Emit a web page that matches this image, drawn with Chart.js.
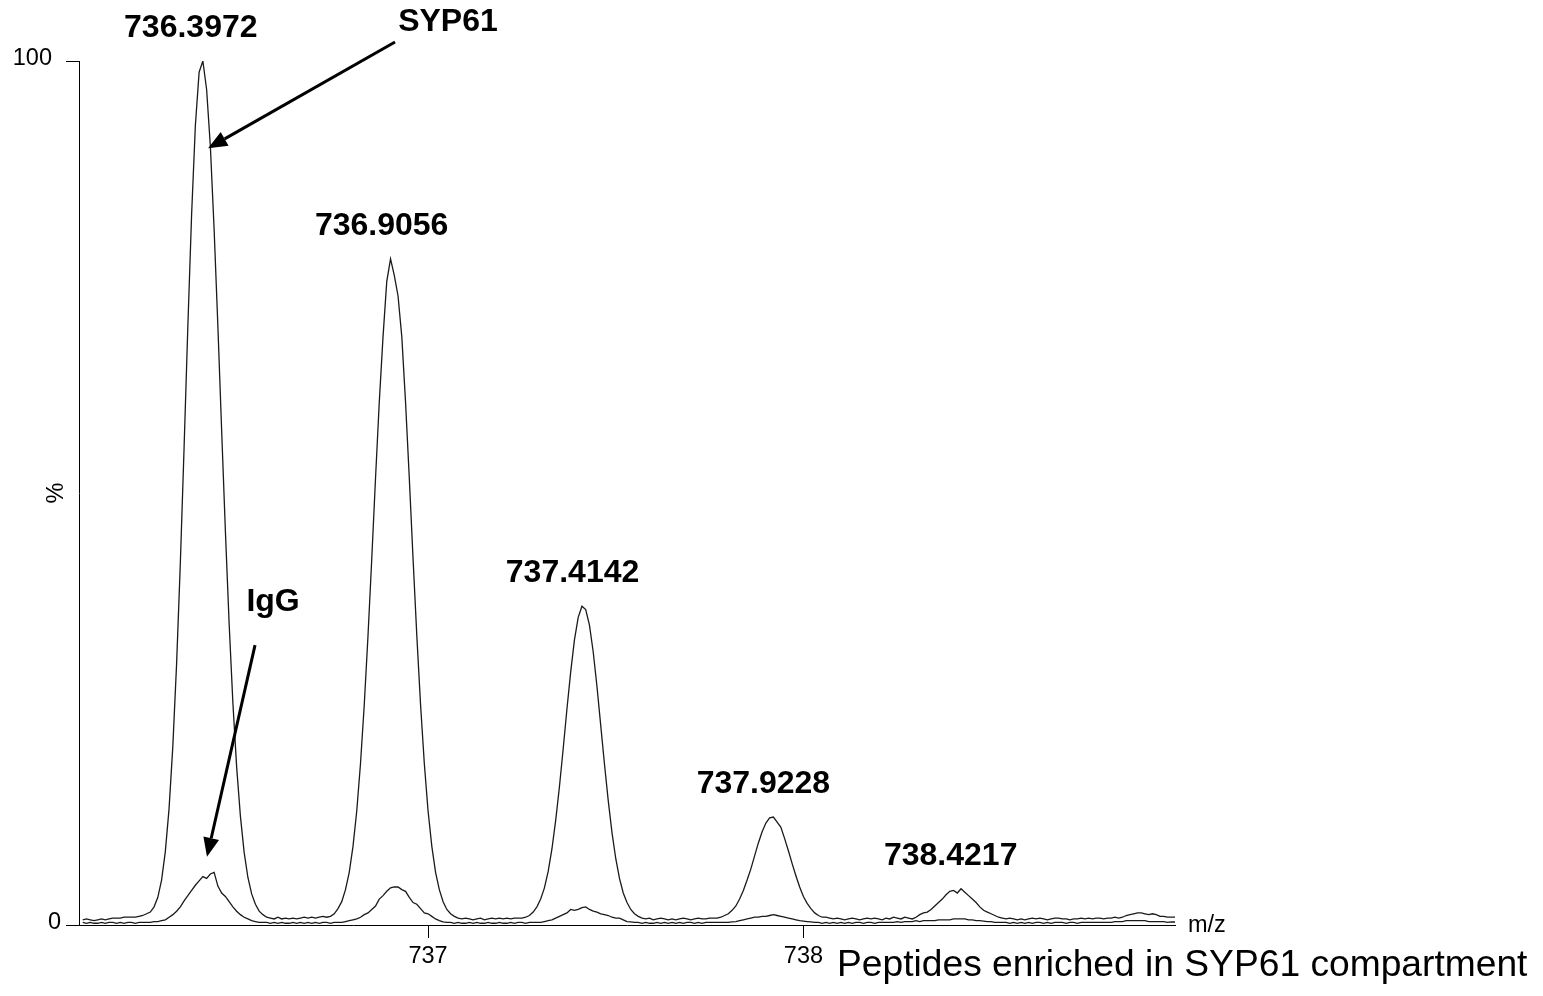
<!DOCTYPE html>
<html>
<head>
<meta charset="utf-8">
<title>Peptides enriched in SYP61 compartment</title>
<script src="https://cdn.jsdelivr.net/npm/chart.js@4/dist/chart.umd.min.js"></script>
<style>
  html, body { margin: 0; padding: 0; background: #ffffff; }
  #wrap { width: 1543px; height: 996px; position: relative; }
  canvas { display: block; }
</style>
</head>
<body>
<div id="wrap"><canvas id="spectrum" width="1543" height="996"></canvas></div>
<script>
// m/z sampling grid of the acquisition (0.01 m/z steps)
const MZ_FIRST = 736.08;
const MZ_STEP = 0.01;

// Relative intensity (%) of the SYP61 immunoprecipitate, one value per grid step
const syp61Intensity = [
  0.6, 0.7, 0.6, 0.5, 0.6, 0.7, 0.6, 0.7, 0.8, 0.8,        // 736.08
  0.8, 0.9, 0.9, 0.9, 0.9, 1.0, 1.1, 1.3, 1.5, 2.1,        // 736.18
  3.2, 5.2, 8.5, 13.5, 20.7, 30.2, 41.9, 55.3, 69.3, 82.2, // 736.28
  92.5, 98.7, 100, 96.7, 90.1, 80.5, 69.3, 57.3, 45.6, 34.9, // 736.38
  25.7, 18.3, 12.6, 8.4, 5.5, 3.6, 2.4, 1.6, 1.2, 0.9,     // 736.48
  0.8, 0.7, 0.9, 0.7, 0.8, 0.7, 0.8, 0.7, 0.8, 0.9,        // 736.58
  0.8, 0.9, 0.8, 0.9, 1.0, 0.9, 1.0, 1.3, 1.9, 2.7,        // 736.68
  4.1, 6.1, 9.1, 13.2, 18.7, 25.5, 33.5, 42.4, 51.7, 60.5, // 736.78
  68.1, 74.5, 77.1, 75.2, 72.8, 68.1, 60.5, 51.7, 42.4, 33.5, // 736.88
  25.5, 18.7, 13.2, 9.1, 6.1, 4.1, 2.7, 1.8, 1.3, 1.0,     // 736.98
  0.8, 0.7, 0.8, 0.7, 0.6, 0.7, 0.8, 0.6, 0.7, 0.8,        // 737.08
  0.7, 0.8, 0.7, 0.8, 0.7, 0.8, 0.8, 0.8, 0.9, 1.1,        // 737.18
  1.5, 2.1, 3.0, 4.3, 6.2, 8.8, 12.1, 16.0, 20.4, 25.0,    // 737.28
  29.3, 33.0, 35.6, 36.9, 36.5, 34.7, 31.6, 27.6, 23.1, 18.6, // 737.38
  14.4, 10.7, 7.7, 5.4, 3.7, 2.6, 1.8, 1.3, 1.0, 0.8,      // 737.48
  0.7, 0.8, 0.6, 0.7, 0.8, 0.7, 0.6, 0.7, 0.6, 0.7,        // 737.58
  0.8, 0.7, 0.6, 0.7, 0.8, 0.7, 0.7, 0.8, 0.8, 0.8,        // 737.68
  0.9, 1.1, 1.3, 1.7, 2.2, 3.0, 4.0, 5.2, 6.5, 8.0,        // 737.78
  9.5, 10.8, 11.8, 12.4, 12.5, 11.9, 11.3, 10.0, 8.6, 7.1, // 737.88
  5.7, 4.4, 3.3, 2.5, 1.9, 1.4, 1.1, 0.9, 0.9, 0.8,        // 737.98
  0.7, 0.8, 0.7, 0.6, 0.7, 0.8, 0.7, 0.6, 0.7, 0.8,        // 738.08
  0.7, 0.8, 0.7, 0.6, 0.8, 0.7, 0.9, 0.8, 0.7, 0.9,        // 738.18
  0.8, 0.7, 0.9, 1.2, 1.4, 1.5, 1.8, 2.2, 2.6, 3.0,        // 738.28
  3.5, 3.9, 4.0, 3.7, 4.2, 3.8, 3.4, 3.0, 2.6, 2.1,        // 738.38
  1.7, 1.5, 1.3, 1.1, 0.9, 0.8, 0.7, 0.8, 0.7, 0.6,        // 738.48
  0.7, 0.6, 0.7, 0.8, 0.7, 0.8, 0.7, 0.6, 0.7, 0.8,        // 738.58
  0.8, 0.7, 0.7, 0.6, 0.7, 0.7, 0.8, 0.7, 0.8, 0.7,        // 738.68
  0.8, 0.8, 0.7, 0.8, 0.8, 0.9, 0.8, 0.9, 1.1, 1.2,        // 738.78
  1.3, 1.4, 1.4, 1.3, 1.2, 1.3, 1.2, 1.0, 1.0, 0.9,        // 738.88
  0.9, 0.9                                                 // 738.98
];

// Relative intensity (%) of the IgG control, same grid
const iggIntensity = [
  0.3, 0.2, 0.3, 0.2, 0.2, 0.3, 0.2, 0.3, 0.3, 0.2,        // 736.08
  0.3, 0.2, 0.3, 0.3, 0.2, 0.3, 0.3, 0.3, 0.3, 0.4,        // 736.18
  0.4, 0.5, 0.6, 0.9, 1.2, 1.6, 2.1, 2.8, 3.4, 4.0,        // 736.28
  4.6, 5.1, 5.6, 5.4, 5.9, 6.1, 4.5, 3.7, 3.3, 2.7,        // 736.38
  2.1, 1.6, 1.2, 0.9, 0.7, 0.5, 0.4, 0.3, 0.3, 0.3,        // 736.48
  0.2, 0.3, 0.2, 0.3, 0.2, 0.2, 0.3, 0.2, 0.3, 0.2,        // 736.58
  0.3, 0.2, 0.3, 0.2, 0.3, 0.3, 0.2, 0.3, 0.3, 0.3,        // 736.68
  0.4, 0.5, 0.6, 0.7, 0.9, 1.2, 1.4, 1.8, 2.2, 3.0,        // 736.78
  3.4, 3.9, 4.3, 4.4, 4.4, 4.1, 3.9, 3.2, 2.6, 2.4,        // 736.88
  1.9, 1.4, 1.3, 1.0, 0.7, 0.5, 0.35, 0.3, 0.3, 0.2,       // 736.98
  0.3, 0.2, 0.2, 0.3, 0.2, 0.3, 0.2, 0.2, 0.3, 0.2,        // 737.08
  0.2, 0.3, 0.2, 0.2, 0.3, 0.2, 0.3, 0.3, 0.2, 0.3,        // 737.18
  0.3, 0.3, 0.3, 0.4, 0.5, 0.6, 0.8, 1.0, 1.2, 1.4,        // 737.28
  1.8, 1.7, 1.8, 2.0, 2.1, 1.8, 1.6, 1.5, 1.3, 1.2,        // 737.38
  1.1, 0.9, 0.8, 0.8, 0.6, 0.4, 0.35, 0.3, 0.3, 0.2,       // 737.48
  0.3, 0.2, 0.2, 0.3, 0.2, 0.3, 0.2, 0.3, 0.2, 0.3,        // 737.58
  0.2, 0.3, 0.3, 0.2, 0.3, 0.2, 0.3, 0.3, 0.3, 0.3,        // 737.68
  0.3, 0.3, 0.3, 0.35, 0.4, 0.5, 0.6, 0.7, 0.8, 0.9,       // 737.78
  0.9, 1.0, 1.0, 1.1, 1.2, 1.1, 1.0, 0.9, 0.8, 0.7,        // 737.88
  0.6, 0.5, 0.45, 0.4, 0.35, 0.3, 0.3, 0.2, 0.3, 0.2,      // 737.98
  0.3, 0.2, 0.3, 0.2, 0.3, 0.2, 0.3, 0.3, 0.2, 0.3,        // 738.08
  0.3, 0.2, 0.3, 0.3, 0.3, 0.3, 0.3, 0.4, 0.3, 0.4,        // 738.18
  0.4, 0.4, 0.5, 0.4, 0.5, 0.5, 0.5, 0.5, 0.6, 0.6,        // 738.28
  0.6, 0.6, 0.7, 0.7, 0.7, 0.7, 0.6, 0.6, 0.5, 0.5,        // 738.38
  0.45, 0.4, 0.4, 0.3, 0.3, 0.3, 0.3, 0.2, 0.3, 0.2,       // 738.48
  0.3, 0.2, 0.3, 0.2, 0.3, 0.3, 0.2, 0.3, 0.2, 0.3,        // 738.58
  0.3, 0.3, 0.2, 0.3, 0.3, 0.2, 0.3, 0.3, 0.3, 0.3,        // 738.68
  0.3, 0.3, 0.3, 0.3, 0.3, 0.4, 0.4, 0.4, 0.5, 0.5,        // 738.78
  0.5, 0.5, 0.5, 0.5, 0.4, 0.4, 0.4, 0.4, 0.4, 0.3,        // 738.88
  0.35, 0.35                                               // 738.98
];

// Isotope peaks: centroid m/z and apex intensity (%)
const peakMz = [736.3972, 736.9056, 737.4142, 737.9228, 738.4217];
const peakApex = [100, 77.1, 36.9, 12.5, 4.2];

// Axis ticks
const xTickValues = [737, 738];
const yLabelTicks = [0, 100];
const X_MIN = 736.07, X_MAX = 738.99;

const FONT = "'Liberation Sans', Arial, Helvetica, sans-serif";
const AXIS_FONT_SIZE = 23.5;

const mzGrid = syp61Intensity.map((_, i) => +(MZ_FIRST + i * MZ_STEP).toFixed(2));
const toPoints = (vals) => vals.map((v, i) => ({ x: mzGrid[i], y: v }));

// Arrow annotations in data coordinates (m/z, %)
const arrows = [
  { from: [736.912, 102.2], to: [736.414, 89.9] },
  { from: [736.539, 32.4], to: [736.411, 7.9] }
];
const callouts = [
  { text: 'SYP61', at: [737.053, 104.5] },
  { text: 'IgG', at: [736.587, 37.4] }
];

// distance from the axis line to the right edge of each y label
const yLabelGap = { 0: 18, 100: 27 };

const annotate = {
  id: 'annotate',
  afterDraw(chart) {
    const { ctx, scales: { x, y }, chartArea } = chart;
    ctx.save();
    ctx.fillStyle = '#000';
    ctx.strokeStyle = '#000';

    // y tick labels
    ctx.font = AXIS_FONT_SIZE + 'px ' + FONT;
    ctx.textAlign = 'right';
    ctx.textBaseline = 'middle';
    yLabelTicks.forEach(v => {
      ctx.fillText(String(v), chartArea.left - yLabelGap[v], y.getPixelForValue(v) - 2);
    });

    // peak m/z labels
    ctx.font = 'bold 32px ' + FONT;
    ctx.textAlign = 'center';
    ctx.textBaseline = 'middle';
    peakMz.forEach((m, i) => {
      ctx.fillText(m.toFixed(4), x.getPixelForValue(m) - 11, y.getPixelForValue(peakApex[i]) - 33);
    });

    // callout texts
    callouts.forEach(c => {
      ctx.fillText(c.text, x.getPixelForValue(c.at[0]), y.getPixelForValue(c.at[1]));
    });

    // arrows
    arrows.forEach(a => {
      const x1 = x.getPixelForValue(a.from[0]), y1 = y.getPixelForValue(a.from[1]);
      const x2 = x.getPixelForValue(a.to[0]), y2 = y.getPixelForValue(a.to[1]);
      const ang = Math.atan2(y2 - y1, x2 - x1);
      const headLen = 19, headHalf = 8;
      const bx = x2 - headLen * Math.cos(ang), by = y2 - headLen * Math.sin(ang);
      ctx.lineWidth = 3;
      ctx.beginPath();
      ctx.moveTo(x1, y1);
      ctx.lineTo(bx, by);
      ctx.stroke();
      ctx.beginPath();
      ctx.moveTo(x2, y2);
      ctx.lineTo(bx + headHalf * Math.sin(ang), by - headHalf * Math.cos(ang));
      ctx.lineTo(bx - headHalf * Math.sin(ang), by + headHalf * Math.cos(ang));
      ctx.closePath();
      ctx.fill();
    });

    // axis names
    ctx.font = AXIS_FONT_SIZE + 'px ' + FONT;
    ctx.textAlign = 'left';
    ctx.textBaseline = 'middle';
    ctx.fillText('m/z', chartArea.right + 13, chartArea.bottom + 1);

    ctx.save();
    ctx.translate(57, y.getPixelForValue(50));
    ctx.rotate(-Math.PI / 2);
    ctx.textAlign = 'center';
    ctx.fillText('%', 0, 0);
    ctx.restore();

    // caption
    ctx.font = '37.2px ' + FONT;
    ctx.textAlign = 'left';
    ctx.textBaseline = 'middle';
    ctx.fillText('Peptides enriched in SYP61 compartment', 837, 966);
    ctx.restore();
  }
};

const lineStyle = {
  borderColor: '#1a1a1a',
  borderWidth: 1.3,
  pointRadius: 0,
  tension: 0,
  fill: false
};

new Chart(document.getElementById('spectrum'), {
  type: 'line',
  data: {
    datasets: [
      Object.assign({ label: 'SYP61', data: toPoints(syp61Intensity) }, lineStyle),
      Object.assign({ label: 'IgG', data: toPoints(iggIntensity) }, lineStyle)
    ]
  },
  options: {
    responsive: false,
    animation: false,
    devicePixelRatio: 1,
    layout: { padding: { left: 0, top: 61, right: 368, bottom: 0 } },
    plugins: { legend: { display: false }, tooltip: { enabled: false }, title: { display: false } },
    scales: {
      x: {
        type: 'linear',
        min: X_MIN,
        max: X_MAX,
        afterBuildTicks: s => { s.ticks = xTickValues.map(v => ({ value: v })); },
        afterFit: s => { s.height = 71; },
        grid: { drawOnChartArea: false, tickLength: 13, color: '#000', lineWidth: 1 },
        border: { color: '#000', width: 1 },
        ticks: { color: '#000', font: { family: FONT, size: AXIS_FONT_SIZE }, padding: 4, maxRotation: 0, autoSkip: false }
      },
      y: {
        type: 'linear',
        position: 'left',
        min: 0,
        max: 100,
        afterBuildTicks: s => { s.ticks = yLabelTicks.map(v => ({ value: v })); },
        afterFit: s => { s.width = 79; },
        grid: { drawOnChartArea: false, tickLength: 13, color: '#000', lineWidth: 1 },
        border: { color: '#000', width: 1 },
        ticks: { display: false }
      },
      yMinor: {
        type: 'linear',
        position: 'left',
        min: 0,
        max: 100,
        ticks: { stepSize: 10, display: false },
        afterFit: s => { s.width = 0; },
        grid: { drawOnChartArea: false, tickLength: 6, color: '#000', lineWidth: 1 },
        border: { display: false }
      }
    }
  },
  plugins: [annotate]
});
</script>
</body>
</html>
